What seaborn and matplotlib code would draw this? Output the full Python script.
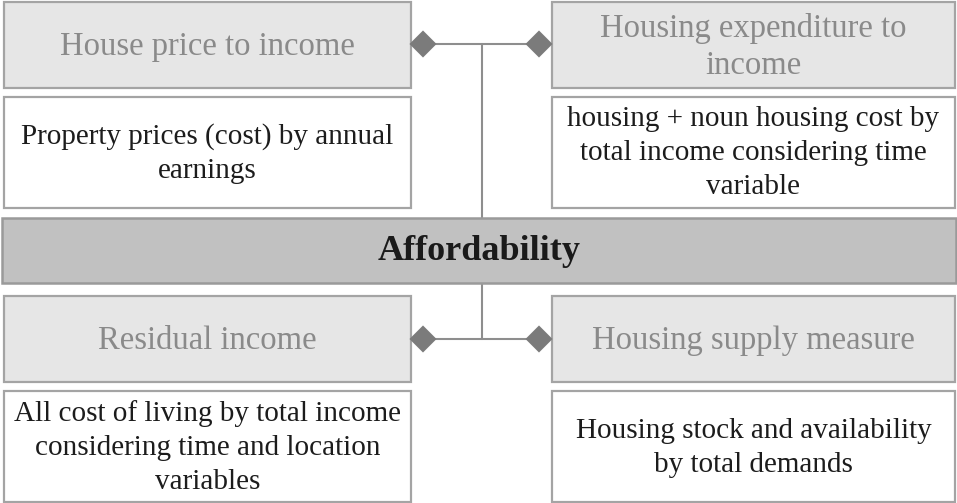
import numpy as np
import pandas as pd
import matplotlib
matplotlib.use("Agg")
from matplotlib import pyplot as plt
from matplotlib.patches import Rectangle
import seaborn as sns

# text content of the diagram
measure_titles = [
    "House price to income",
    "Housing expenditure to\nincome",
    "Residual income",
    "Housing supply measure",
]
measure_descriptions = [
    "Property prices (cost) by annual\nearnings",
    "housing + noun housing cost by\ntotal income considering time\nvariable",
    "All cost of living by total income\nconsidering time and location\nvariables",
    "Housing stock and availability\nby total demands",
]
center_label = "Affordability"

sns.set_theme(style="white")
plt.rcParams["font.family"] = ["Liberation Serif", "DejaVu Serif"]

W, H = 957, 503
fig = plt.figure(figsize=(W / 100, H / 100), dpi=100)
ax = fig.add_axes([0, 0, 1, 1])

# layout in pixel coords (x0, x1), (y0, y1)
cols = [(4, 411), (552, 955)]
rows = [((2, 88), (97, 208)), ((296, 382), (391, 502))]
bar = (2, 956, 218, 283)
mid_x = 482
dia_x = (423, 539)
link_y = (44, 339)

edge = "#a4a4a4"
line_col = "#8e8e8e"


def box(x0, x1, y0, y1, fc, ec=edge, lw=1.6):
    ax.add_patch(Rectangle((x0, y0), x1 - x0, y1 - y0, facecolor=fc,
                           edgecolor=ec, linewidth=lw, zorder=2))


for i, (title, desc) in enumerate(zip(measure_titles, measure_descriptions)):
    r, c = divmod(i, 2)
    (tx0, tx1), ((gy0, gy1), (wy0, wy1)) = cols[c], rows[r]
    box(tx0, tx1, gy0, gy1, "#e6e6e6")
    box(tx0, tx1, wy0, wy1, "white")
    cx = (tx0 + tx1) / 2
    ax.text(cx, (gy0 + gy1) / 2 + 2, title, ha="center", va="center",
            fontsize=23.5, color="#8a8a8a", linespacing=1.28, zorder=3)
    ax.text(cx, (wy0 + wy1) / 2 + 1, desc, ha="center", va="center",
            fontsize=21, color="#1c1c1c", linespacing=1.4, zorder=3)

# central bar
bx0, bx1, by0, by1 = bar
box(bx0, bx1, by0, by1, "#c1c1c1", ec="#9a9a9a", lw=1.8)
ax.text((bx0 + bx1) / 2, (by0 + by1) / 2 + 1, center_label, ha="center",
        va="center", fontsize=26, fontweight="bold", color="#1a1a1a", zorder=3)

# connectors
ax.plot([dia_x[0], dia_x[1]], [link_y[0]] * 2, color=line_col, lw=1.5, zorder=1)
ax.plot([mid_x, mid_x], [link_y[0], by0], color=line_col, lw=1.5, zorder=1)
ax.plot([dia_x[0], dia_x[1]], [link_y[1]] * 2, color=line_col, lw=1.5, zorder=1)
ax.plot([mid_x, mid_x], [by1, link_y[1]], color=line_col, lw=1.5, zorder=1)

dia = pd.DataFrame({
    "x": [dia_x[0], dia_x[1], dia_x[0], dia_x[1]],
    "y": [link_y[0], link_y[0], link_y[1], link_y[1]],
})
sns.scatterplot(data=dia, x="x", y="y", marker="D", s=190, color="#7b7b7b",
                edgecolor="none", ax=ax, zorder=4, legend=False)
ax.set_xlim(0, W)
ax.set_ylim(H, 0)
ax.axis("off")

fig.savefig("out.png", dpi=100, facecolor="white")
